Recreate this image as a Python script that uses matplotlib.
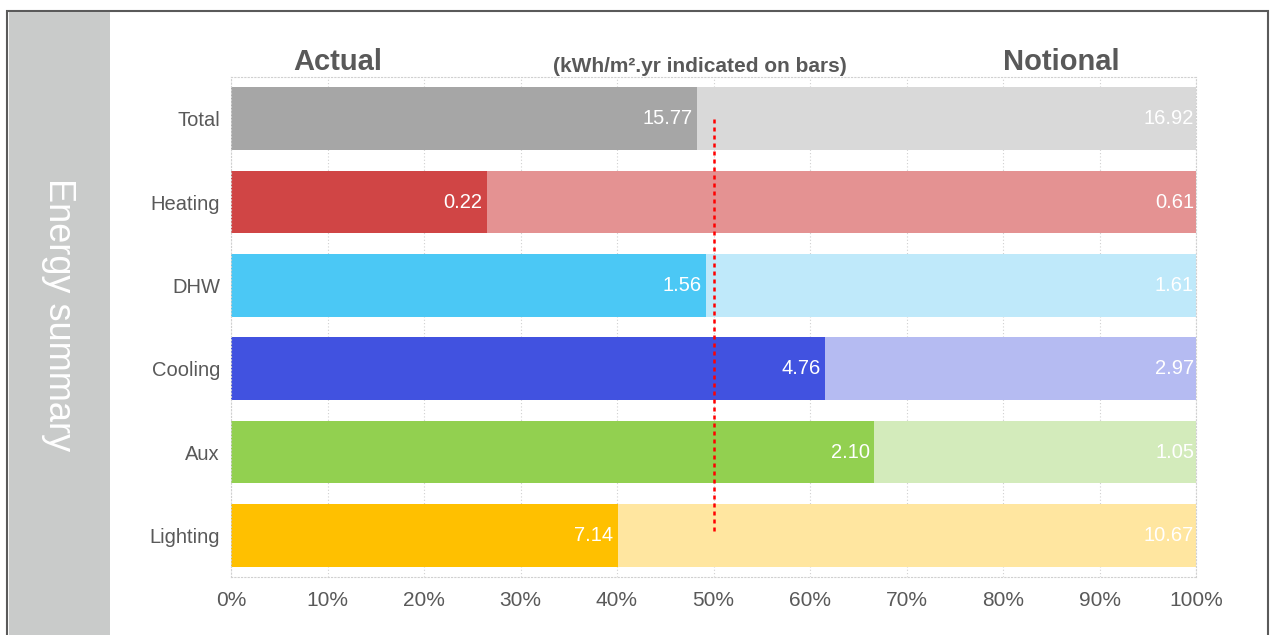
import matplotlib
matplotlib.use('Agg')
import matplotlib.pyplot as plt
from matplotlib.patches import Rectangle
import numpy as np

plt.rcParams['font.family'] = ['Liberation Sans', 'DejaVu Sans']

# data
categories = ['Total', 'Heating', 'DHW', 'Cooling', 'Aux', 'Lighting']
actual = [15.77, 0.22, 1.56, 4.76, 2.10, 7.14]
notional = [16.92, 0.61, 1.61, 2.97, 1.05, 10.67]
actual_colors = ['#a6a6a6', '#d04545', '#4bc8f5', '#4152e0', '#92d050', '#ffc000']
notional_colors = ['#d9d9d9', '#e49292', '#bfe9fa', '#b5bbf2', '#d3ebbb', '#ffe6a0']
ticks = [0, 10, 20, 30, 40, 50, 60, 70, 80, 90, 100]

TEXT = '#595959'

fig = plt.figure(figsize=(12.71, 6.35), dpi=100)
W, H = 1271, 635

# outer frame and grey side panel
fig.patches.append(Rectangle((7 / W, -0.1), 1261 / W, 1.1 - 11 / H, transform=fig.transFigure,
                             facecolor='white', edgecolor='#5a5a5a', linewidth=1.5, zorder=-2))
fig.patches.append(Rectangle((8.5 / W, -0.1), 101 / W, 1.1 - 12 / H, transform=fig.transFigure,
                             facecolor='#c9cbca', edgecolor='none', zorder=-1))
fig.text(58 / W, 1 - 315 / H, 'Energy summary', rotation=-90, color='white', fontsize=26,
         ha='center', va='center')

ax = fig.add_axes([231 / W, 1 - 577 / H, 965 / W, 500 / H])
ax.set_facecolor('none')

act = np.array(actual)
nat = np.array(notional)
share = act / (act + nat) * 100
y = np.arange(len(categories))

ax.barh(y, share, height=0.75, color=actual_colors, zorder=2)
ax.barh(y, 100 - share, left=share, height=0.75, color=notional_colors, zorder=2)

for i in range(len(categories)):
    ax.text(share[i] - 0.45, y[i], f'{actual[i]:.2f}', color='white', fontsize=14.5,
            ha='right', va='center', zorder=3)
    ax.text(99.8, y[i], f'{notional[i]:.2f}', color='white', fontsize=14.5,
            ha='right', va='center', zorder=3)

# 50% marker
ax.plot([50, 50], [y[0], y[-1]], color='#ff0000', linestyle=(0, (1.6, 1.6)), linewidth=1.8, zorder=4)

ax.set_xlim(0, 100)
ax.set_ylim(len(categories) - 0.5, -0.5)
ax.set_xticks(ticks)
ax.set_xticklabels([f'{t}%' for t in ticks])
ax.set_yticks(y)
ax.set_yticklabels(categories)
ax.tick_params(axis='x', colors=TEXT, labelsize=15, length=0, pad=10)
ax.tick_params(axis='y', colors=TEXT, labelsize=14.5, length=0, pad=8)
ax.grid(axis='x', color='#d0d0d0', linestyle=(0, (1, 2)), linewidth=0.8, zorder=1)
for s in ax.spines.values():
    s.set_color('#d0d0d0')
    s.set_linestyle((0, (1, 2)))
    s.set_linewidth(0.8)

fig.text(338 / W, 1 - 62 / H, 'Actual', color=TEXT, fontsize=21, fontweight='bold',
         ha='center', va='center')
fig.text(700 / W, 1 - 67 / H, '(kWh/m\u00b2.yr indicated on bars)', color=TEXT, fontsize=15,
         fontweight='bold', ha='center', va='center')
fig.text(1061 / W, 1 - 62 / H, 'Notional', color=TEXT, fontsize=21, fontweight='bold',
         ha='center', va='center')

fig.savefig('out.png', dpi=100)
